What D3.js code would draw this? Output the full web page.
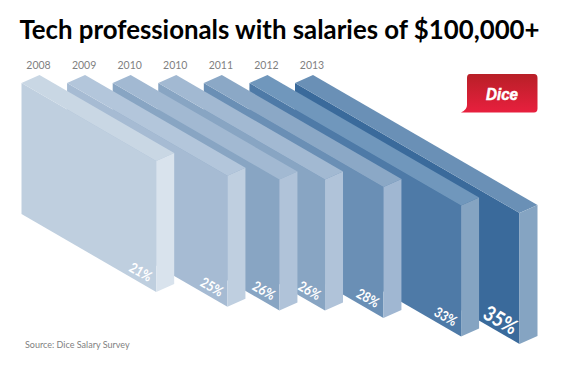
<!DOCTYPE html>
<html>
<head>
<meta charset="utf-8">
<script src="https://cdnjs.cloudflare.com/ajax/libs/d3/7.8.5/d3.min.js"></script>
<style>
	html, body { margin:0; padding:0; background:#fff; }
	svg { display:block; }
	text { font-family:Lato, "Open Sans", sans-serif; }
</style>
</head>
<body>
<div id="chart"></div>
<script>
var years = ["2008", "2009", "2010", "2010", "2011", "2012", "2013"];
var values = [21, 25, 26, 26, 28, 33, 35];

var frontColors = ["#bfcfdf", "#a6bbd3", "#88a5c3", "#88a5c3", "#6a8fb5", "#4e7aa7", "#3a6a9b"];
var topColors = ["#c9d7e4", "#b3c6db", "#a2b9d2", "#a2b9d2", "#8ba8c6", "#7097bc", "#6a90b6"];
var sideColors = ["#d9e3ed", "#bfcfe0", "#b0c3d9", "#b0c3d9", "#a0b7d2", "#85a4c2", "#85a4c2"];

var width = 565, height = 368;
var topY = 83, blockHeight = 131;
var depthX = 18, depthY = -8;

var svg = d3.select("#chart").append("svg")
	.attr("width", width)
	.attr("height", height);

// input => bar index | output => left edge of the block
var start = d3.scalePoint()
	.domain(d3.range(years.length))
	.range([21.5, 295]);
// the value sets how far a block runs down the diagonal
var run = d3.scaleLinear().domain([0, 35]).range([0, 224.5]);
var drop = d3.scaleLinear().domain([0, 35]).range([0, 130]);

function points(list){
	return list.map(function(p){ return p.join(","); }).join(" ");
}

function frontFace(d){
	var x0 = start(d.i), x1 = x0 + run(d.value), y1 = topY + drop(d.value);
	return points([[x0, topY], [x1, y1], [x1, y1 + blockHeight], [x0, topY + blockHeight]]);
}

function topFace(d){
	var x0 = start(d.i), x1 = x0 + run(d.value), y1 = topY + drop(d.value);
	return points([[x0, topY], [x0 + depthX, topY + depthY], [x1 + depthX, y1 + depthY], [x1, y1]]);
}

function sideFace(d){
	var x1 = start(d.i) + run(d.value), y1 = topY + drop(d.value);
	return points([[x1, y1], [x1 + depthX, y1 + depthY], [x1 + depthX, y1 + depthY + blockHeight], [x1, y1 + blockHeight]]);
}

var data = years.map(function(year, i){
	return { i:i, year:year, value:values[i] };
});

svg.append("text")
	.attr("x", 279.5)
	.attr("y", 39)
	.attr("text-anchor", "middle")
	.attr("font-size", "25.8px")
	.attr("font-weight", 700)
	.attr("fill", "#000")
	.text("Tech professionals with salaries of $100,000+");

svg.selectAll("text.year")
	.data(data)
	.enter()
	.append("text")
	.attr("class", "year")
	.attr("x", function(d){ return start(d.i) + 17; })
	.attr("y", 69)
	.attr("text-anchor", "middle")
	.attr("font-size", "10.5px")
	.attr("fill", "#7f7f7f")
	.text(function(d){ return d.year; });

// Back block first, the front ones are painted over it
var blocks = svg.selectAll("g.block")
	.data(data.slice().reverse())
	.enter()
	.append("g")
	.attr("class", "block");

blocks.append("polygon")
	.attr("points", frontFace)
	.attr("fill", function(d){ return frontColors[d.i]; });
blocks.append("polygon")
	.attr("points", topFace)
	.attr("fill", function(d){ return topColors[d.i]; });
blocks.append("polygon")
	.attr("points", sideFace)
	.attr("fill", function(d){ return sideColors[d.i]; });

// Labels are narrower than Lato's own digits, hence the scale
blocks.append("text")
	.attr("transform", function(d){
		var big = d.i === years.length - 1;
		var x = start(d.i) + run(d.value) - (big ? 19 : 15.5);
		var y = topY + drop(d.value) + blockHeight - (big ? 24 : 20);
		return "translate(" + x + "," + y + ") rotate(30) scale(0.85,1)";
	})
	.attr("dy", "0.35em")
	.attr("text-anchor", "middle")
	.attr("font-size", function(d){ return d.i === years.length - 1 ? "21px" : "14px"; })
	.attr("font-weight", 700)
	.attr("fill", "#fff")
	.text(function(d){ return d.value + "%"; });

svg.append("text")
	.attr("x", 25)
	.attr("y", 348)
	.attr("font-size", "9px")
	.attr("fill", "#7f7f7f")
	.text("Source: Dice Salary Survey");

// Dice logo
var grad = svg.append("defs").append("linearGradient")
	.attr("id", "logoFill")
	.attr("x1", 0).attr("y1", 0)
	.attr("x2", 0).attr("y2", 1);
grad.append("stop").attr("offset", "0%").attr("stop-color", "#b81f27");
grad.append("stop").attr("offset", "100%").attr("stop-color", "#e8203e");

svg.append("path")
	.attr("d", "M470,74 H534 Q537.5,74 537.5,78 V108.5 Q537.5,112.5 534,112.5 H461 Q467,110 467,105 V78 Q467,74 470,74 Z")
	.attr("fill", "url(#logoFill)");

svg.append("text")
	.attr("x", 486)
	.attr("y", 99.5)
	.attr("textLength", 32)
	.attr("lengthAdjust", "spacingAndGlyphs")
	.style("font-family", "'Liberation Sans', sans-serif")
	.attr("font-size", "16px")
	.attr("font-weight", 700)
	.attr("font-style", "italic")
	.attr("fill", "#fff")
	.attr("stroke", "#fff")
	.attr("stroke-width", 0.5)
	.text("Dice");
</script>
</body>
</html>
